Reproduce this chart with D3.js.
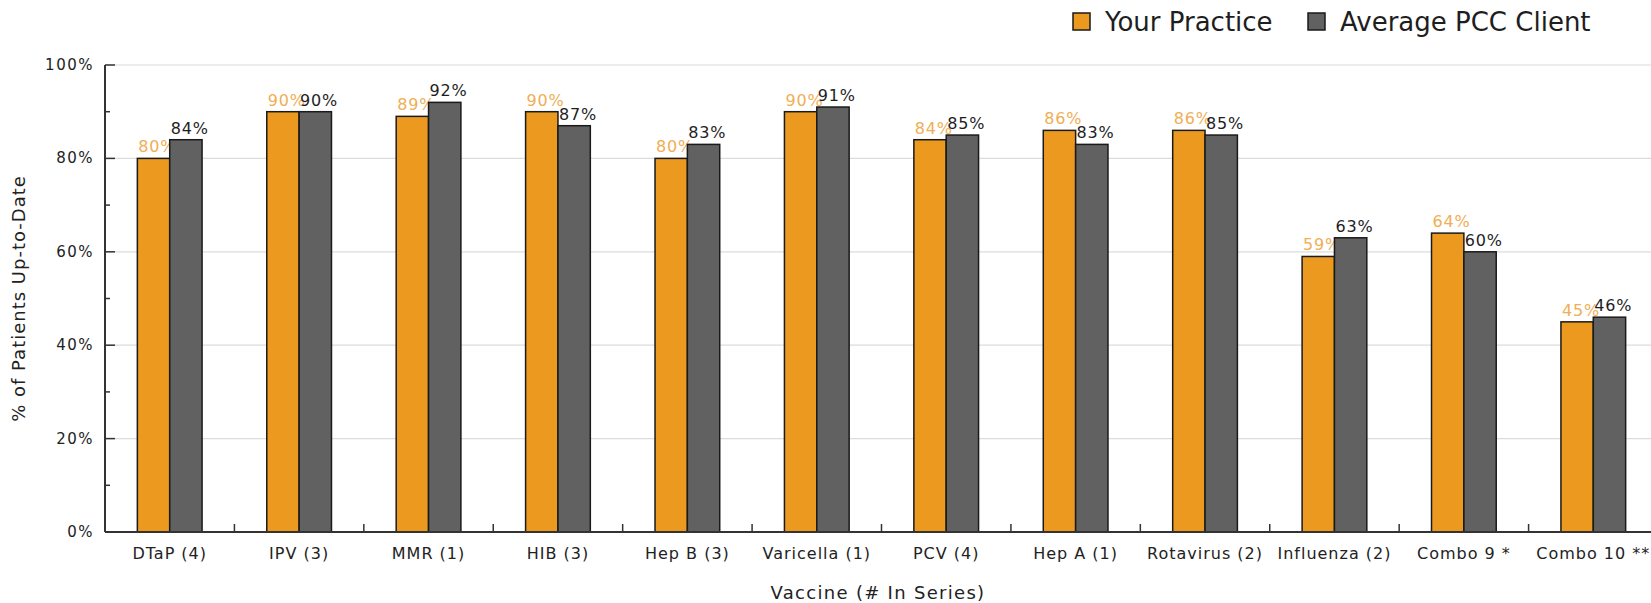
<!DOCTYPE html>
<html>
<head>
<meta charset="utf-8" />
<title>vaccine up-to-date</title>
<style>
html, body {
	margin:0;
	padding:0;
	background:#ffffff;
}
svg {
	display:block;
	font-family: 'DejaVu Sans', Verdana, sans-serif;
}
</style>
</head>
<body>

<script type="text/javascript" src="https://cdnjs.cloudflare.com/ajax/libs/d3/7.8.5/d3.min.js"></script>

<script>

//=======================================
// data
//=======================================

let categories = ['DTaP (4)','IPV (3)','MMR (1)','HIB (3)','Hep B (3)','Varicella (1)','PCV (4)','Hep A (1)','Rotavirus (2)','Influenza (2)','Combo 9 *','Combo 10 **'];

let practice = [80, 90, 89, 90, 80, 90, 84, 86, 86, 59, 64, 45];
let average  = [84, 90, 92, 87, 83, 91, 85, 83, 85, 63, 60, 46];

let seriesNames = ['Your Practice','Average PCC Client'];

let yTicks = [0, 20, 40, 60, 80, 100];
let yMinorTicks = [10, 30, 50, 70, 90];


let colors = {
	'Your Practice'				:'#EC9A1F',
	'Average PCC Client'	:'#616161',
};

let labelColors = {
	'Your Practice'				:'#F0AE55',
	'Average PCC Client'	:'#1e1e1e',
};


let data = categories.map((c,i)=>({
	category:c,
	values:[
		{series:'Your Practice', value:practice[i]},
		{series:'Average PCC Client', value:average[i]},
	]
}));


d3.select('body').append('div').call(chart, data);


//====================================================================================
//
//====================================================================================

function chart(sel, data)	{

	let width = 1651,
			height = 603,
			left = 105,
			top = 65,
			bottom = 532,
			right = 1658,

			x0 = d3.scaleBand().domain(categories).range([left, right]),
			bw = x0.bandwidth(),
			x1 = d3.scaleBand().domain(seriesNames).range([bw*0.25, bw*0.75]),
			y  = d3.scaleLinear().domain([0,100]).range([bottom, top]);


	sel
		.append('svg')
			.attr('width', width)
			.attr('height', height)
			.attr('viewBox',[0,0,width,height].join(' '))
			.call(sel=>{


				//=====================
				// grid
				//=====================
				sel.append('g').attr('class','grid')
					.selectAll('line').data(yTicks.filter(d=>d>0))
						.enter()
							.append('line')
								.attr('x1', left)
								.attr('x2', width)
								.attr('y1', d=>y(d))
								.attr('y2', d=>y(d))
								.attr('stroke','#dcdcdc')
								.attr('stroke-width',1.2);


				//=====================
				// bars
				//=====================
				sel.append('g').attr('class','bars')
					.selectAll('g').data(data)
						.enter()
							.append('g')
								.attr('transform', d=>'translate('+[x0(d.category),0]+')')
								.call(sel=>{

									sel.selectAll('g').data(d=>d.values)
										.enter()
											.append('g')
												.call(sel=>{

													sel.append('rect')
														.attr('x', d=>x1(d.series))
														.attr('y', d=>y(d.value))
														.attr('width', x1.bandwidth())
														.attr('height', d=>y(0)-y(d.value))
														.attr('fill', d=>colors[d.series])
														.attr('stroke','#1a1a1a')
														.attr('stroke-width',1.5);

													sel.append('text')
														.attr('x', d=>x1(d.series)+1)
														.attr('y', d=>y(d.value)-6)
														.attr('fill', d=>labelColors[d.series])
														.attr('font-size',16)
														.attr('letter-spacing',0.8)
														.text(d=>d.value+'%');

												});

								});


				//=====================
				// axis
				//=====================
				sel.append('g').attr('class','axes')
					.call(sel=>{

						// x
						sel.append('line')
							.attr('x1', left).attr('x2', width)
							.attr('y1', bottom).attr('y2', bottom)
							.attr('stroke','#333').attr('stroke-width',2);

						sel.append('g')
							.selectAll('line').data(categories.slice(1))
								.enter()
									.append('line')
										.attr('x1', d=>x0(d)).attr('x2', d=>x0(d))
										.attr('y1', bottom).attr('y2', bottom-8)
										.attr('stroke','#333').attr('stroke-width',1.5);

						sel.append('g')
							.selectAll('text').data(categories)
								.enter()
									.append('text')
										.attr('x', d=>x0(d)+bw/2)
										.attr('y', bottom+27)
										.attr('text-anchor','middle')
										.attr('font-size',16)
										.attr('letter-spacing',1)
										.attr('fill','#222')
										.text(d=>d);

						// y
						sel.append('line')
							.attr('x1', left).attr('x2', left)
							.attr('y1', top).attr('y2', bottom)
							.attr('stroke','#333').attr('stroke-width',2);

						sel.append('g')
							.selectAll('line').data(yTicks)
								.enter()
									.append('line')
										.attr('x1', left).attr('x2', left+10)
										.attr('y1', d=>y(d)).attr('y2', d=>y(d))
										.attr('stroke','#333').attr('stroke-width',1.5);

						sel.append('g')
							.selectAll('line').data(yMinorTicks)
								.enter()
									.append('line')
										.attr('x1', left).attr('x2', left+5)
										.attr('y1', d=>y(d)).attr('y2', d=>y(d))
										.attr('stroke','#333').attr('stroke-width',1.5);

						sel.append('g')
							.selectAll('text').data(yTicks)
								.enter()
									.append('text')
										.attr('x', 94)
										.attr('y', d=>y(d)+5)
										.attr('text-anchor','end')
										.attr('font-size',15)
										.attr('letter-spacing',1.5)
										.attr('fill','#222')
										.text(d=>d+'%');

						// titles
						sel.append('text')
							.attr('x', (left+width)/2)
							.attr('y', 599)
							.attr('text-anchor','middle')
							.attr('font-size',18)
							.attr('letter-spacing',1.3)
							.attr('fill','#222')
							.text('Vaccine (# In Series)');

						sel.append('text')
							.attr('transform','translate('+[25,(top+bottom)/2]+') rotate(-90)')
							.attr('text-anchor','middle')
							.attr('font-size',18)
							.attr('letter-spacing',1)
							.attr('fill','#222')
							.text('% of Patients Up-to-Date');

					}); // axis


				//=====================
				// legend
				//=====================
				let legendX = {
					'Your Practice'				:1073,
					'Average PCC Client'	:1308,
				};

				sel.append('g').attr('class','legend')
					.selectAll('g').data(seriesNames)
						.enter()
							.append('g')
								.attr('transform', d=>'translate('+[legendX[d],13]+')')
								.call(sel=>{

									sel.append('rect')
										.attr('width',17).attr('height',17)
										.attr('fill', d=>colors[d])
										.attr('stroke','#1a1a1a')
										.attr('stroke-width',1.5);

									sel.append('text')
										.attr('x',32)
										.attr('y',18)
										.attr('font-size',26)
										.attr('fill','#1e1e1e')
										.text(d=>d);

								});

			});

}

</script>

</body>
</html>
